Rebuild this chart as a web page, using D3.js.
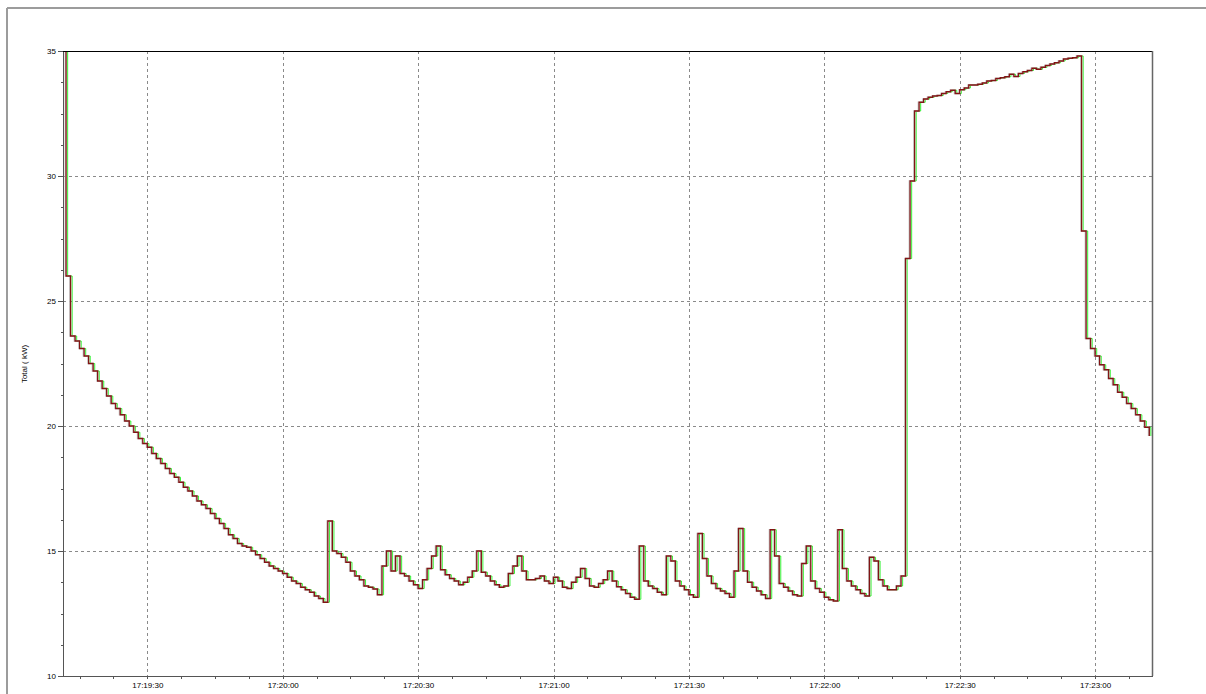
<!DOCTYPE html>
<html>
<head>
<meta charset="utf-8">
<script src="https://cdn.jsdelivr.net/npm/d3@7/dist/d3.min.js"></script>
<style>
  html, body { margin: 0; padding: 0; background: #fff; }
  svg { display: block; }
  .tick text { font-family: "Liberation Sans", Arial, sans-serif; font-size: 8px; fill: #000; }
</style>
</head>
<body>
<svg id="chart" width="1206" height="694"></svg>
<script>
// samples, one per second, starting 17:19:11
var sampleStart = [17, 19, 11];
var sampleStepSec = 1;

// Total (kW)
var totalKw = [
  36, 26.0, 23.6, 23.4, 23.1, 22.8, 22.5, 22.2, 21.8, 21.5, 21.2,
  20.9, 20.7, 20.45, 20.2, 20.0, 19.75, 19.5, 19.3, 19.15, 18.9,
  18.7, 18.5, 18.3, 18.1, 17.95, 17.75, 17.55, 17.4, 17.2, 17.0,
  16.85, 16.7, 16.5, 16.3, 16.1, 15.9, 15.65, 15.5, 15.3, 15.2,
  15.15, 15.0, 14.85, 14.7, 14.55, 14.4, 14.3, 14.2, 14.1, 13.95,
  13.8, 13.7, 13.55, 13.45, 13.35, 13.2, 13.1, 12.95, 16.2, 15.0,
  14.9, 14.75, 14.55, 14.2, 14.0, 13.85, 13.6, 13.55, 13.48, 13.25,
  14.4, 15.0, 14.2, 14.8, 14.1, 14.0, 13.8, 13.65, 13.5, 13.85,
  14.3, 14.8, 15.2, 14.25, 14.05, 13.9, 13.8, 13.65, 13.75, 13.95,
  14.2, 15.0, 14.15, 14.0, 13.8, 13.65, 13.55, 13.6, 14.1, 14.4,
  14.8, 14.2, 13.85, 13.85, 13.9, 14.0, 13.8, 13.7, 13.95, 13.8,
  13.55, 13.5, 13.75, 13.95, 14.3, 13.9, 13.6, 13.55, 13.7, 13.85,
  14.2, 13.8, 13.57, 13.45, 13.3, 13.15, 13.07, 15.2, 13.8, 13.6,
  13.5, 13.35, 13.25, 14.8, 14.6, 13.8, 13.6, 13.45, 13.25, 13.15,
  15.7, 14.7, 14.0, 13.7, 13.5, 13.4, 13.3, 13.15, 14.2, 15.9,
  14.2, 13.75, 13.55, 13.4, 13.25, 13.1, 15.85, 14.8, 13.7, 13.55,
  13.4, 13.25, 13.2, 14.5, 15.2, 13.8, 13.5, 13.35, 13.15, 13.05,
  13.0, 15.85, 14.3, 13.8, 13.6, 13.45, 13.3, 13.2, 14.75, 14.6,
  13.85, 13.6, 13.45, 13.45, 13.6, 14.0, 26.7, 29.8, 32.6, 32.95,
  33.08, 33.15, 33.2, 33.22, 33.3, 33.37, 33.43, 33.3, 33.45, 33.52,
  33.64, 33.64, 33.67, 33.72, 33.8, 33.82, 33.9, 33.93, 33.97, 34.07,
  33.98, 34.1, 34.17, 34.22, 34.31, 34.27, 34.35, 34.42, 34.48, 34.53,
  34.6, 34.68, 34.71, 34.73, 34.8, 27.8, 23.5, 23.1, 22.8, 22.45,
  22.25, 21.9, 21.65, 21.35, 21.15, 20.9, 20.7, 20.45, 20.2, 19.95,
  19.6
];

// three meters logging the same feed, slightly out of phase (drawn in this order)
var seriesNames = ['meter B', 'meter A', 'meter C'];
var seriesLagSec = [0.35, -0.15, 0];
var seriesColors = ['#22ee22', '#c4c4c4', '#821414'];
var seriesWidths = [0.9, 1.6, 1.3];

var yMajorTicks = [10, 15, 20, 25, 30, 35];
var yGridTicks = [15, 20, 25, 30];
var timeFrom = [17, 19, 11.32];
var timeTo = [17, 23, 12.6];

function at(h, m, s) {
  return new Date(2000, 0, 1, h, m, 0, Math.round(s * 1000));
}

var plotL = 63, plotT = 51, plotR = 1152, plotB = 676;
var svg = d3.select('#chart');

var x = d3.scaleTime()
  .domain([at.apply(null, timeFrom), at.apply(null, timeTo)])
  .range([plotL, plotR]);
var y = d3.scaleLinear().domain([10, 35]).range([plotB, plotT]);

// outer frame
svg.append('line').attr('x1', 7).attr('y1', 8).attr('x2', 1206).attr('y2', 8)
  .attr('stroke', '#9c9c9c').attr('stroke-width', 2);
svg.append('line').attr('x1', 7).attr('y1', 8).attr('x2', 7).attr('y2', 694)
  .attr('stroke', '#9c9c9c').attr('stroke-width', 2);

var xMajor = d3.timeSecond.every(30).range(x.domain()[0], x.domain()[1]);
var xMinor = d3.range(0, 40).map(function(k) { return at(17, 19, 15 + k * 7.5); })
  .filter(function(d) { return d >= x.domain()[0] && d <= x.domain()[1]; });
var yMinor = d3.range(10, 35.01, 1.25);

// grid
var grid = svg.append('g').attr('shape-rendering', 'crispEdges')
  .attr('stroke', '#8a8a8a').attr('stroke-dasharray', '3,3');
grid.selectAll('.gx').data(xMajor).enter().append('line')
  .attr('x1', function(d) { return Math.round(x(d)) + 0.5; })
  .attr('x2', function(d) { return Math.round(x(d)) + 0.5; })
  .attr('y1', plotT).attr('y2', plotB);
grid.selectAll('.gy').data(yGridTicks).enter().append('line')
  .attr('y1', function(d) { return Math.round(y(d)) + 0.5; })
  .attr('y2', function(d) { return Math.round(y(d)) + 0.5; })
  .attr('x1', plotL).attr('x2', plotR);

// traces
svg.append('clipPath').attr('id', 'plotClip').append('rect')
  .attr('x', plotL).attr('y', plotT).attr('width', plotR - plotL).attr('height', plotB - plotT);

var traces = svg.append('g').attr('clip-path', 'url(#plotClip)');
seriesNames.forEach(function(name, s) {
  var pts = totalKw.map(function(v, i) {
    return { t: at(sampleStart[0], sampleStart[1], sampleStart[2] + i * sampleStepSec + seriesLagSec[s]), v: v };
  });
  var line = d3.line()
    .x(function(d) { return x(d.t); })
    .y(function(d) { return y(d.v); })
    .curve(d3.curveStepAfter);
  traces.append('path')
    .datum(pts)
    .attr('d', line)
    .attr('fill', 'none')
    .attr('stroke', seriesColors[s])
    .attr('stroke-width', seriesWidths[s]);
});

// frame of the plot
svg.append('line').attr('x1', plotL).attr('x2', plotR).attr('y1', plotT + 0.5).attr('y2', plotT + 0.5)
  .attr('stroke', '#000').attr('stroke-width', 1.2);
svg.append('line').attr('x1', plotR + 0.5).attr('x2', plotR + 0.5).attr('y1', plotT).attr('y2', plotB)
  .attr('stroke', '#666').attr('stroke-width', 1.5);

// axes
var yAxis = svg.append('g').attr('transform', 'translate(' + plotL + ',0)')
  .call(d3.axisLeft(y).tickValues(yMajorTicks).tickSize(5).tickSizeOuter(0).tickPadding(2));
var yAxisMinor = svg.append('g').attr('transform', 'translate(' + plotL + ',0)')
  .call(d3.axisLeft(y).tickValues(yMinor).tickSize(2).tickSizeOuter(0).tickFormat(''));
var xAxis = svg.append('g').attr('transform', 'translate(0,' + plotB + ')')
  .call(d3.axisBottom(x).tickValues(xMajor).tickSize(3).tickSizeOuter(0).tickPadding(3)
    .tickFormat(d3.timeFormat('%H:%M:%S')));
var xAxisMinor = svg.append('g').attr('transform', 'translate(0,' + plotB + ')')
  .call(d3.axisBottom(x).tickValues(xMinor).tickSize(3).tickSizeOuter(0).tickFormat(''));

[yAxis, yAxisMinor, xAxis, xAxisMinor].forEach(function(g) {
  g.attr('shape-rendering', 'crispEdges');
  g.selectAll('.domain').attr('stroke', '#555').attr('stroke-width', 1.5);
  g.selectAll('.tick line').attr('stroke', '#555');
});

svg.append('text')
  .attr('transform', 'translate(27,364) rotate(-90)')
  .attr('text-anchor', 'middle')
  .style('font-family', '"Liberation Sans", Arial, sans-serif')
  .style('font-size', '8px')
  .text('Total ( kW)');
</script>
</body>
</html>
